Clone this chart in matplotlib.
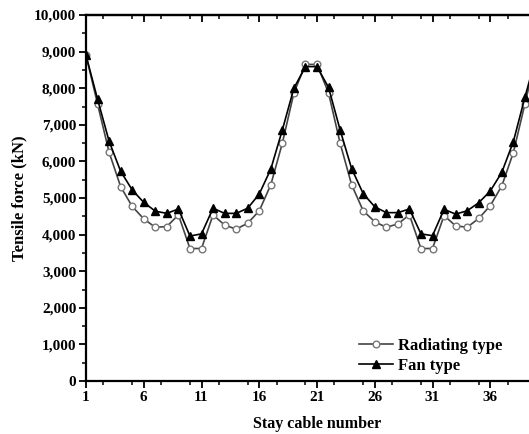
import numpy as np
import matplotlib
matplotlib.use('Agg')
import matplotlib.pyplot as plt
from matplotlib.ticker import MultipleLocator, FuncFormatter

plt.rcParams['font.family'] = 'Liberation Serif'
plt.rcParams['font.weight'] = 'bold'

cable = np.arange(1, 41)
radiating = [8900, 7570, 6250, 5310, 4770, 4430, 4200, 4220, 4540, 3620,
             3620, 4540, 4260, 4150, 4310, 4650, 5360, 6500, 7870, 8650,
             8650, 7870, 6500, 5360, 4650, 4350, 4200, 4290, 4540, 3620,
             3620, 4520, 4240, 4200, 4440, 4790, 5330, 6240, 7570, 8900]
fan = [8900, 7700, 6550, 5730, 5220, 4880, 4640, 4580, 4700, 3960,
       4020, 4720, 4580, 4580, 4720, 5110, 5790, 6860, 8000, 8590,
       8590, 8020, 6860, 5800, 5120, 4760, 4600, 4600, 4700, 4020,
       3970, 4690, 4560, 4650, 4870, 5190, 5700, 6540, 7750, 8900]

fig = plt.figure(figsize=(5.29, 4.34), dpi=100)
# axes runs past the right edge, like the cropped original
ax = fig.add_axes([86/529, 53/434, 462/529, 366/434])

ax.plot(cable, radiating, '-o', color='#444444', lw=1.2, ms=4.8,
        mfc='white', mec='#777777', mew=1.0, label='Radiating type')
ax.plot(cable, fan, '-^', color='black', lw=1.2, ms=5.5,
        mfc='black', mec='black', label='Fan type')

ax.set_xlim(1, 41)
ax.set_ylim(0, 10000)
ax.set_xticks(np.arange(1, 41, 5))
ax.xaxis.set_minor_locator(MultipleLocator(2.5))
ax.yaxis.set_major_locator(MultipleLocator(1000))
ax.yaxis.set_minor_locator(MultipleLocator(500))
ax.yaxis.set_major_formatter(FuncFormatter(lambda v, p: f'{int(v):,}'))

for s in ax.spines.values():
    s.set_linewidth(1.6)
ax.spines['right'].set_visible(False)
ax.tick_params(which='major', direction='out', length=5, width=1.3,
               labelsize=11, pad=2)
ax.tick_params(which='minor', direction='out', length=3, width=1.1)

top = ax.secondary_xaxis('top')
top.set_xticks(np.arange(1, 41, 5))
top.xaxis.set_minor_locator(MultipleLocator(2.5))
top.tick_params(which='major', direction='in', length=5, width=1.3, labeltop=False)
top.tick_params(which='minor', direction='in', length=3, width=1.1)
top.spines['top'].set_linewidth(1.6)

ax.set_xlabel('Stay cable number', fontsize=11.5, fontweight='bold', labelpad=9)
ax.set_ylabel('Tensile force (kN)', fontsize=12, fontweight='bold', labelpad=5)

ax.legend(loc='lower right', bbox_to_anchor=(426/462, -0.008), frameon=False,
          fontsize=12, handlelength=2.0, handletextpad=0.3, labelspacing=0.25,
          borderaxespad=0.2)

fig.savefig('out.png', dpi=100)
